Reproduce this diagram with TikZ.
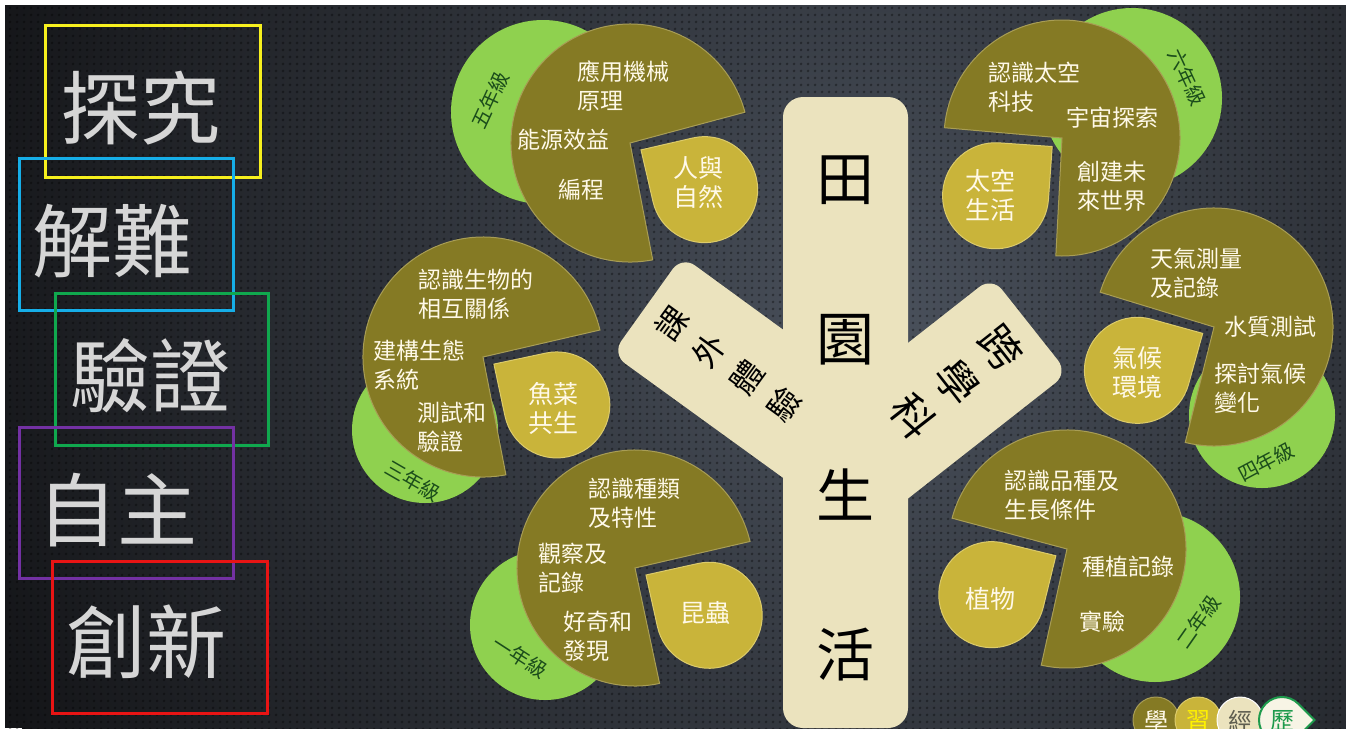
\documentclass[tikz,border=0pt]{standalone}
\usepackage{fontspec}
\setmainfont{Noto Sans CJK TC}
\usetikzlibrary{calc,patterns}
\definecolor{bgin}{HTML}{4A515C}
\definecolor{bgout}{HTML}{141518}
\definecolor{pieol}{HTML}{857A24}
\definecolor{pieedge}{HTML}{A89D55}
\definecolor{piegold}{HTML}{C9B43A}
\definecolor{goldedge}{HTML}{DCCB6A}
\definecolor{piegreen}{HTML}{8FD14F}
\definecolor{gradegreen}{HTML}{1B4D1B}
\definecolor{trunkcr}{HTML}{EBE3BE}
\definecolor{pietxt}{HTML}{FFF9E8}
\definecolor{silver}{HTML}{D6D6D6}
\definecolor{bxyellow}{HTML}{F7F01E}
\definecolor{bxblue}{HTML}{16AEE8}
\definecolor{bxgreen}{HTML}{10A84E}
\definecolor{bxpurple}{HTML}{7331A3}
\definecolor{bxred}{HTML}{E81414}
\definecolor{logogreen}{HTML}{1E9A4C}
\definecolor{logogray}{HTML}{5E5E50}
\pgfdeclarepatternformonly{bgdots}{\pgfqpoint{0pt}{0pt}}{\pgfqpoint{7pt}{7pt}}{\pgfqpoint{7pt}{7pt}}{\pgfpathcircle{\pgfqpoint{3.5pt}{3.5pt}}{1.6pt}\pgfusepath{fill}}
\newcommand\mypie[6]{%
  \fill[pieol, draw=pieedge, line width=1pt] (#1,#2) -- ++({#4}:#3) arc[start angle=#4, end angle=#5, radius=#3] -- cycle;
  \path (#1,#2) ++({#6}:88) coordinate (tdc);
  \fill[piegold, draw=goldedge, line width=1pt] ($(tdc)+({#6+180}:75)$) -- ($(tdc)+({#6+225}:53)$) arc[start angle=#6+225, end angle=#6+495, radius=53] -- cycle;
}
\tikzset{
  bigtxt/.style={text=silver, font=\fontsize{80}{80}\selectfont, inner sep=0pt},
  pt/.style={text=pietxt, font=\fontsize{23}{29}\selectfont, inner sep=0pt, align=left, anchor=west},
  ptc/.style={pt, align=center, anchor=center},
  gt/.style={text=pietxt, font=\fontsize{25}{29}\selectfont, inner sep=0pt, align=center},
  grade/.style={text=gradegreen, font=\fontsize{20}{20}\selectfont, inner sep=0pt},
  trunkt/.style={text=black, font=\fontsize{58}{58}\selectfont, inner sep=0pt},
  brtxt/.style={text=black, inner sep=0pt, align=center},
  frame/.style={line width=3pt},
  logotxt/.style={font=\fontsize{24}{24}\selectfont, inner sep=0pt}
}
\begin{document}
\begin{tikzpicture}[x=1pt,y=-1pt]
\useasboundingbox (0,0) rectangle (1346,731);
\fill[white] (0,0) rectangle (1346,731);
\begin{scope}
\clip (5,5) rectangle (1346,728);
\fill[bgout] (5,5) rectangle (1346,728);
\shade[inner color=bgin, outer color=bgout] (880,320) circle[radius=950];
\fill[pattern=bgdots, pattern color=black, opacity=0.35] (5,5) rectangle (1346,728);

% left panel
\draw[frame, bxyellow] (45,25) rectangle (260,177);
\draw[frame, bxblue] (19,158) rectangle (233,310);
\draw[frame, bxgreen] (55,293) rectangle (268,445);
\draw[frame, bxpurple] (19,427) rectangle (233,578);
\draw[frame, bxred] (52,561) rectangle (267,713);
\node[bigtxt] (k1) at (140,108) {探究};
\node[bigtxt] (k2) at (112,241) {解難};
\node[bigtxt] (k3) at (150,376) {驗證};
\node[bigtxt] (k4) at (117,510) {自主};
\node[bigtxt] (k5) at (146,642) {創新};

% green circles
\fill[piegreen] (543,112) circle[radius=92];
\fill[piegreen] (1132,98) circle[radius=90];
\fill[piegreen] (425,430) circle[radius=73];
\fill[piegreen] (1262,415) circle[radius=73];
\fill[piegreen] (545,625) circle[radius=75];
\fill[piegreen] (1155,597) circle[radius=85];

% pies with gold drops
\mypie{630}{143}{119}{79}{345}{32}
\mypie{1062}{138}{118}{185}{453}{139}
\mypie{483}{357}{120}{79}{347}{33}
\mypie{1214}{327}{119}{197}{464}{150.5}
\mypie{635}{568}{118}{78}{347}{32.5}
\mypie{1067}{549}{119}{195}{462.5}{148.75}

% trunk and branches
\fill[trunkcr, rounded corners=20pt] (783,97) rectangle (908,728);
\fill[trunkcr, rounded corners=16pt] (682,256) -- (892,409) -- (822,506) -- (612,354) -- cycle;
\fill[trunkcr, rounded corners=16pt] (992,277) -- (1068,373) -- (887,515) -- (811,419) -- cycle;
\node[trunkt] (c1) at (845,180) {田};
\node[trunkt] (c2) at (845,340) {園};
\node[trunkt] (c3) at (845,495) {生};
\node[trunkt] (c4) at (845,655) {活};
\node[brtxt, rotate=54, font=\fontsize{32}{46}\selectfont] (bl) at (728,364) {課\\外\\體\\驗};
\node[brtxt, rotate=-52, font=\fontsize{42}{56}\selectfont] (br) at (957,382) {跨\\學\\科};

% grade 5
\node[pt] (a1) at (577,86) {應用機械\\原理};
\node[pt] (a2) at (517,140) {能源效益};
\node[pt] (a3) at (558,190) {編程};
\node[gt] (a4) at (698,183) {人與\\自然};
\node[grade, rotate=65] (a5) at (490,100) {五年級};
% grade 6
\node[pt] (b1) at (988,87) {認識太空\\科技};
\node[ptc] (b2) at (1112,118) {宇宙探索};
\node[ptc] (b3) at (1112,186) {創建未\\來世界};
\node[gt] (b4) at (990,195) {太空\\生活};
\node[grade, rotate=-65] (b5) at (1187,77) {六年級};
% grade 3
\node[pt] (c1a) at (418,294) {認識生物的\\相互關係};
\node[pt] (c2a) at (373,365) {建構生態\\系統};
\node[pt] (c3a) at (417,427) {測試和\\驗證};
\node[gt] (c4a) at (553,408) {魚菜\\共生};
\node[grade, rotate=-30] (c5a) at (413,481) {三年級};
% grade 4
\node[pt] (d1) at (1150,273) {天氣測量\\及記錄};
\node[ptc] (d2) at (1270,327) {水質測試};
\node[pt] (d3) at (1214,388) {探討氣候\\變化};
\node[gt] (d4) at (1137,373) {氣候\\環境};
\node[grade, rotate=28] (d5) at (1266,462) {四年級};
% grade 1
\node[pt] (e1) at (588,503) {認識種類\\及特性};
\node[pt] (e2) at (538,568) {觀察及\\記錄};
\node[pt] (e3) at (563,636) {好奇和\\發現};
\node[gt] (e4) at (705,613) {昆蟲};
\node[grade, rotate=-33] (e5) at (520,657) {一年級};
% grade 2
\node[pt] (f1) at (1004,495) {認識品種及\\生長條件};
\node[ptc] (f2) at (1128,567) {種植記錄};
\node[ptc] (f3) at (1102,622) {實驗};
\node[gt] (f4) at (990,599) {植物};
\node[grade, rotate=55] (f5) at (1198,622) {二年級};

% logo
\filldraw[fill=pieol, draw=pieedge, line width=1pt] (1156,720) circle[radius=23];
\node[logotxt, text=pietxt] (g1) at (1156,721) {學};
\filldraw[fill=piegold, draw=goldedge, line width=1pt] (1198,720) circle[radius=23];
\node[logotxt, text=yellow] (g2) at (1198,721) {習};
\filldraw[fill=trunkcr, draw=white, line width=1pt] (1240,720) circle[radius=23];
\node[logotxt, text=logogray] (g3) at (1240,721) {經};
\filldraw[fill=trunkcr!40!white, draw=logogreen, line width=2pt] (1314.5,720) -- ($(1282,720)+(45:23)$) arc[start angle=45, end angle=315, radius=23] -- cycle;
\node[logotxt, text=logogreen] (g4) at (1282,721) {歷};
\end{scope}
\end{tikzpicture}
\end{document}
